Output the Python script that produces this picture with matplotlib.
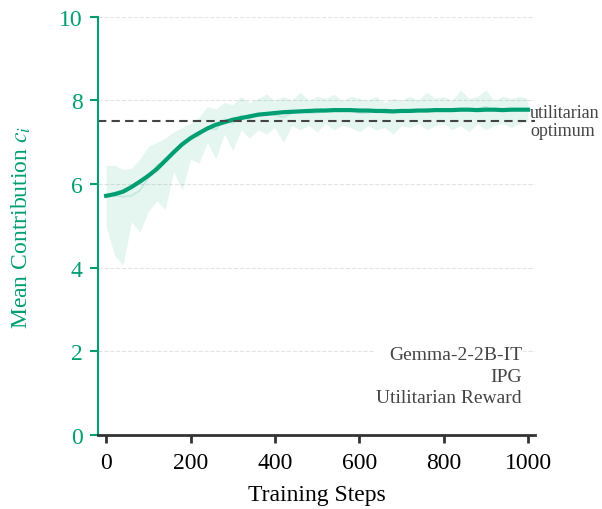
import numpy as np
import matplotlib
matplotlib.use("Agg")
import matplotlib.pyplot as plt

plt.rcParams['font.family'] = ['Liberation Serif', 'DejaVu Serif']
plt.rcParams['mathtext.fontset'] = 'stix'

# training steps (every 20)
steps = np.arange(0, 1001, 20)

# smoothed mean contribution
smooth = [5.72, 5.76, 5.82, 5.93, 6.06, 6.20, 6.36, 6.56, 6.76, 6.95,
          7.10, 7.22, 7.33, 7.42, 7.48, 7.54, 7.58, 7.62, 7.66, 7.68,
          7.70, 7.72, 7.73, 7.74, 7.75, 7.76, 7.76, 7.77, 7.77, 7.77,
          7.76, 7.76, 7.75, 7.75, 7.74, 7.75, 7.75, 7.76, 7.76, 7.77,
          7.77, 7.77, 7.78, 7.78, 7.77, 7.78, 7.78, 7.77, 7.78, 7.78, 7.78]

# raw mean
raw = [5.75, 5.72, 5.70, 5.72, 5.85, 6.15, 6.45, 6.55, 6.75, 6.95,
       7.10, 7.15, 7.35, 7.30, 7.55, 7.45, 7.65, 7.55, 7.70, 7.70,
       7.65, 7.60, 7.70, 7.75, 7.70, 7.70, 7.75, 7.80, 7.75, 7.75,
       7.70, 7.70, 7.75, 7.70, 7.70, 7.75, 7.75, 7.75, 7.80, 7.75,
       7.80, 7.75, 7.80, 7.75, 7.80, 7.85, 7.75, 7.80, 7.75, 7.80, 7.80]

# spread band
upper = [6.45, 6.45, 6.35, 6.38, 6.60, 6.90, 7.00, 7.10, 7.25, 7.35,
         7.45, 7.60, 7.85, 7.80, 7.95, 7.90, 8.10, 7.95, 8.05, 8.15,
         8.00, 8.10, 8.00, 8.20, 8.00, 8.10, 8.05, 8.15, 8.00, 8.10,
         8.05, 8.00, 8.10, 7.95, 8.05, 8.00, 8.10, 8.00, 8.20, 8.05,
         8.10, 8.00, 8.25, 8.05, 8.10, 8.25, 8.00, 8.10, 8.05, 8.10, 8.05]
lower = [5.00, 4.30, 4.05, 5.10, 4.85, 5.35, 5.60, 5.40, 6.30, 5.85,
         6.60, 6.50, 7.00, 6.60, 7.20, 6.80, 7.30, 7.10, 7.30, 7.20,
         7.35, 7.00, 7.40, 7.30, 7.40, 7.25, 7.45, 7.30, 7.40, 7.35,
         7.25, 7.40, 7.30, 7.35, 7.20, 7.40, 7.35, 7.45, 7.30, 7.40,
         7.45, 7.30, 7.40, 7.25, 7.45, 7.30, 7.40, 7.45, 7.35, 7.45, 7.50]

optimum = 7.5

green = '#009e73'
dark = '#333333'

fig = plt.figure(figsize=(6.02, 5.10), dpi=100)
ax = fig.add_axes([0.163, 0.145, 0.726, 0.820])

ax.fill_between(steps, lower, upper, color=green, alpha=0.1, linewidth=0)
ax.plot(steps, raw, color=green, alpha=0.15, linewidth=1.2)
ax.plot(steps, smooth, color=green, linewidth=3)
ax.axhline(optimum, color='#444444', linestyle=(0, (4, 2.5)), linewidth=1.5)

ax.set_xlim(-19, 1017)
ax.set_ylim(0, 10)
ax.set_yticks([0, 2, 4, 6, 8, 10])
ax.set_xticks([0, 200, 400, 600, 800, 1000])
ax.yaxis.grid(True, linestyle='--', color='#e3e3e3', linewidth=0.8)
ax.set_axisbelow(True)

for s in ['top', 'right']:
    ax.spines[s].set_visible(False)
ax.spines['left'].set_color(green)
ax.spines['left'].set_linewidth(1.5)
ax.spines['bottom'].set_color(dark)
ax.spines['bottom'].set_linewidth(2)

ax.tick_params(axis='y', colors=green, labelsize=17, width=1.5, length=6, pad=5)
ax.tick_params(axis='x', colors='black', labelsize=17, width=2, length=6, pad=6)
ax.tick_params(axis='x', color=dark)

ax.set_xlabel('Training Steps', fontsize=17, labelpad=8)
ax.set_ylabel('Mean Contribution $c_i$', fontsize=17, color=green, labelpad=19)

ax.text(1005, optimum, 'utilitarian\noptimum', fontsize=13, color='#444444',
        ha='left', va='center', linespacing=1.1, clip_on=False)

ax.text(986, 1.41, 'Gemma-2-2B-IT\nIPG\nUtilitarian Reward', fontsize=14,
        color='#444444', ha='right', va='center', multialignment='right',
        linespacing=1.35,
        bbox=dict(facecolor='white', edgecolor='none', pad=1))

fig.savefig('out.png', dpi=100)
